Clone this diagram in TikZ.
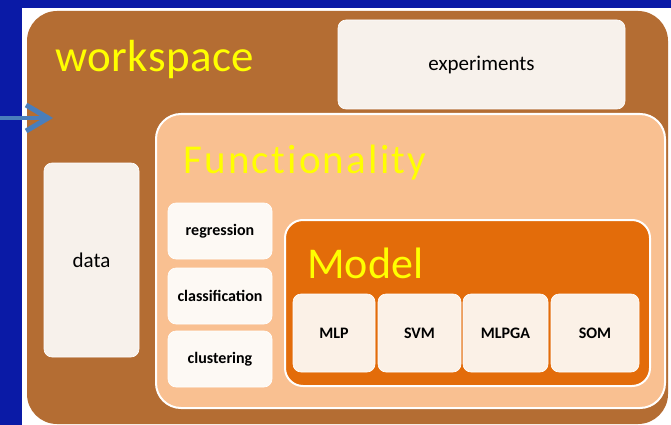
\documentclass[tikz,border=0pt]{standalone}
\usepackage{fontspec}
\setmainfont{Carlito}
\usetikzlibrary{arrows.meta}
\definecolor{bgblue}{HTML}{0A1AA6}
\definecolor{wsbrown}{HTML}{B46D33}
\definecolor{funcorange}{HTML}{F9C091}
\definecolor{modelorange}{HTML}{E36C0A}
\definecolor{boxA}{HTML}{F7F1EB}
\definecolor{boxB}{HTML}{FDF9F4}
\definecolor{boxC}{HTML}{FBF1E7}
\definecolor{arrowblue}{HTML}{4A7EBB}
\definecolor{titleyellow}{HTML}{FFFF00}
\tikzset{
  panel/.style={rectangle, inner sep=0pt, outer sep=0pt},
  lightbox/.style={panel, fill=boxA, draw=white, line width=0.6pt, rounded corners=8pt, font=\fontsize{21}{24}\selectfont, text=black},
  funcbox/.style={panel, fill=boxB, draw=white, line width=0.6pt, rounded corners=8pt, minimum width=104pt, minimum height=56pt, font=\bfseries\fontsize{16}{19}\selectfont, text=black},
  modbox/.style={panel, fill=boxC, draw=white, line width=0.6pt, rounded corners=8pt, minimum height=78pt, font=\bfseries\fontsize{16}{19}\selectfont, text=black},
  titletext/.style={anchor=base west, inner sep=0pt, text=titleyellow},
}
\begin{document}
\begin{tikzpicture}[x=1pt,y=-1pt]
  \useasboundingbox (0,0) rectangle (671,425);
  \fill[bgblue] (0,0) rectangle (671,425);
  \fill[white] (22,8) rectangle (671,425);
  % workspace
  \node[panel, fill=wsbrown, rounded corners=30pt, minimum width=641pt, minimum height=413pt] (ws) at (347.5,217.5) {};
  \node[titletext, font=\fontsize{45}{49}\selectfont\addfontfeature{LetterSpace=1}] (wst) at (55,72) {workspace};
  \node[lightbox, minimum width=287pt, minimum height=89pt] (exp) at (481.5,64.5) {experiments};
  \node[lightbox, minimum width=95pt, minimum height=194pt] (data) at (91.5,260) {data};
  % functionality
  \node[panel, fill=funcorange, draw=white, line width=2pt, rounded corners=25pt, minimum width=509pt, minimum height=294pt] (func) at (410.5,261) {};
  \node[titletext, font=\fontsize{41}{45}\selectfont\addfontfeature{LetterSpace=5.5,Ligatures={NoCommon,NoRare,NoContextual}}] (funct) at (183,173) {Functionality};
  \node[funcbox] (reg) at (220,231) {regression};
  \node[funcbox] (cls) at (220,296) {classification};
  \node[funcbox] (clu) at (220,359) {clustering};
  % model
  \node[panel, fill=modelorange, draw=white, line width=2pt, rounded corners=18pt, minimum width=365pt, minimum height=166pt] (model) at (467.5,303) {};
  \node[titletext, font=\fontsize{44}{48}\selectfont] (modelt) at (307,278) {Model};
  \node[modbox, minimum width=82pt] (mlp) at (334,333) {MLP};
  \node[modbox, minimum width=83pt] (svm) at (419.5,333) {SVM};
  \node[modbox, minimum width=85pt] (mlpga) at (505.5,333) {MLPGA};
  \node[modbox, minimum width=88pt] (som) at (595,333) {SOM};
  % arrow
  \coordinate (astart) at (0,118);
  \coordinate (aend) at (53,118);
  \draw[arrowblue, line width=3.5pt, -{Straight Barb[length=22pt,width=26pt,line width=5pt]}] (astart) -- (aend);
\end{tikzpicture}
\end{document}
